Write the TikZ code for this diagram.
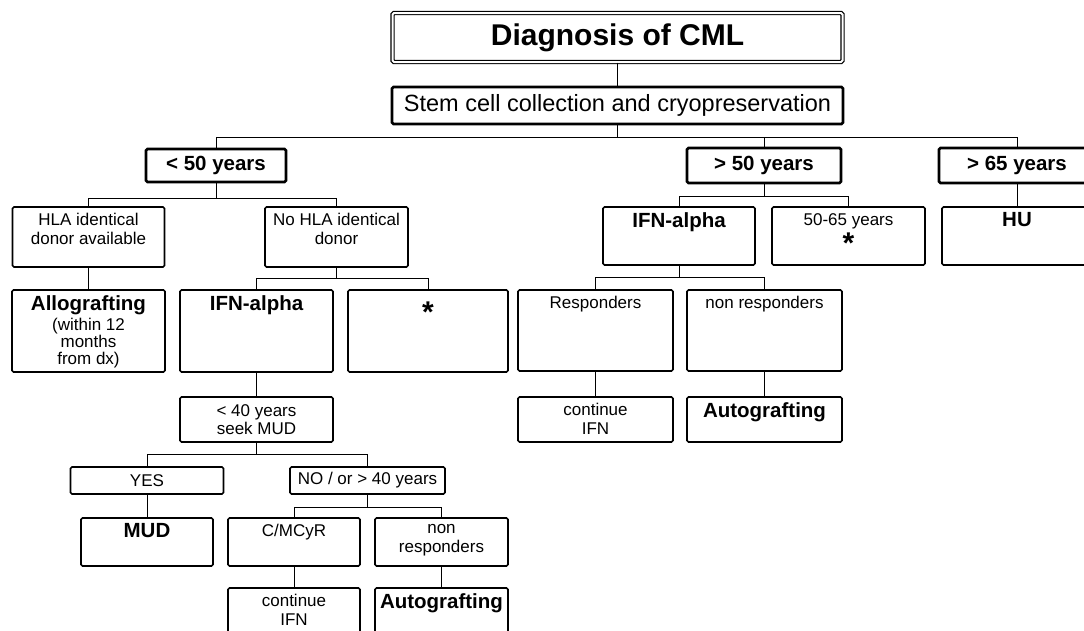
\documentclass[tikz,border=0pt]{standalone}
\usepackage{fontspec}
\setmainfont{Liberation Sans}
\newcommand{\regtxt}{\fontsize{17}{18.5}\selectfont\mdseries}
\newcommand{\starfont}{\fontsize{30}{30}\selectfont\bfseries}

\begin{document}
\begin{tikzpicture}[
    x=1pt, y=-1pt,
    box/.style={rectangle, draw, line width=1.7pt, rounded corners=1.5pt, inner sep=0pt, align=center},
    head/.style={box, line width=2.8pt},
    link/.style={draw, line width=0.8pt},
    boldtxt/.style={font=\fontsize{20.5}{23}\selectfont\bfseries},
    smalltxt/.style={font=\fontsize{17}{18.5}\selectfont},
    toptext/.style={label={[anchor=north, yshift=-7pt, inner sep=0pt, align=center, smalltxt]north:{#1}}},
    topbold/.style={label={[anchor=north, yshift=-6pt, inner sep=0pt, align=center, boldtxt]north:{#1}}}
]
\useasboundingbox (0,0) rectangle (1084,630);
\clip (0,0) rectangle (1084,630);

\node[box, double, double distance=2pt, line width=1.2pt, minimum width=450pt, minimum height=49pt, font=\fontsize{30}{32}\selectfont\bfseries] (diag) at (617.5,37.5) {Diagnosis of CML};
\node[head, minimum width=451pt, minimum height=37pt, font=\fontsize{23.5}{26}\selectfont] (stem) at (617.5,105.5) {Stem cell collection and cryopreservation};

\node[head, minimum width=140pt, minimum height=33pt, boldtxt] (young) at (216,165.5) {< 50 years};
\node[head, minimum width=154pt, minimum height=35pt, boldtxt] (mid) at (764,165.5) {> 50 years};
\node[head, minimum width=156pt, minimum height=35pt, boldtxt] (old) at (1017,165.5) {> 65 years};

\node[box, minimum width=152pt, minimum height=60pt, toptext={HLA identical\\donor available}] (hla) at (88.5,237) {};
\node[box, minimum width=143pt, minimum height=60pt, toptext={No HLA identical\\donor}] (nohla) at (336.5,237) {};
\node[box, minimum width=153pt, minimum height=82pt, topbold={Allografting\\[-3pt]\regtxt (within 12\\[-6pt]\regtxt months\\[-6pt]\regtxt from dx)}] (allo) at (88.5,331) {};
\node[box, minimum width=153pt, minimum height=82pt, topbold={IFN-alpha}] (ifnyoung) at (256.5,331) {};
\node[box, minimum width=160pt, minimum height=82pt, label={[anchor=north, yshift=-13pt, inner sep=0pt]north:{\starfont *}}] (staryoung) at (428,331) {};

\node[box, minimum width=153pt, minimum height=45pt, smalltxt] (seek) at (256.5,419.5) {< 40 years\\seek MUD};
\node[box, minimum width=153pt, minimum height=27pt, smalltxt] (yes) at (147,480.5) {YES};
\node[box, minimum width=155pt, minimum height=27pt, smalltxt] (no) at (367.5,480.5) {NO / or > 40 years};
\node[box, minimum width=132pt, minimum height=48pt, topbold={MUD}] (mud) at (147,542) {};
\node[box, minimum width=132pt, minimum height=48pt, toptext={C/MCyR}] (cmcyr) at (294,542) {};
\node[box, minimum width=133pt, minimum height=48pt, toptext={non\\responders}] (nonyoung) at (441.5,542) {};
\node[box, minimum width=132pt, minimum height=52pt, toptext={continue\\IFN}] (contyoung) at (294,614) {};
\node[box, minimum width=133pt, minimum height=52pt, topbold={Autografting}] (autoyoung) at (441.5,614) {};

\node[box, minimum width=152pt, minimum height=58pt, topbold={IFN-alpha}] (ifnmid) at (679,236) {};
\node[box, minimum width=153pt, minimum height=58pt, toptext={50-65 years\\[3pt]\starfont *}] (range) at (848.5,236) {};
\node[box, minimum width=150pt, minimum height=58pt, topbold={HU}] (hu) at (1017,236) {};
\node[box, minimum width=155pt, minimum height=81pt, toptext={Responders}] (resp) at (595.5,330.5) {};
\node[box, minimum width=155pt, minimum height=81pt, toptext={non responders}] (nonmid) at (764.5,330.5) {};
\node[box, minimum width=155pt, minimum height=45pt, toptext={continue\\IFN}] (contmid) at (595.5,419.5) {};
\node[box, minimum width=155pt, minimum height=45pt, topbold={Autografting}] (automid) at (764.5,419.5) {};

\draw[link] (diag) -- (stem);
\draw[link] (stem.south) -- +(0,12) -| (young.north);
\draw[link] (stem.south) -- +(0,12) -| (mid.north);
\draw[link] (stem.south) -- +(0,12) -| (old.north);
\draw[link] (young.south) -- +(0,15) -| (hla.north);
\draw[link] (young.south) -- +(0,15) -| (nohla.north);
\draw[link] (hla) -- (allo);
\draw[link] (nohla.south) -- +(0,11) -| (ifnyoung.north);
\draw[link] (nohla.south) -- +(0,11) -| (staryoung.north);
\draw[link] (ifnyoung) -- (seek);
\draw[link] (seek.south) -- +(0,12) -| (yes.north);
\draw[link] (seek.south) -- +(0,12) -| (no.north);
\draw[link] (yes) -- (mud);
\draw[link] (no.south) -- +(0,13) -| (cmcyr.north);
\draw[link] (no.south) -- +(0,13) -| (nonyoung.north);
\draw[link] (cmcyr) -- (contyoung);
\draw[link] (nonyoung) -- (autoyoung);
\draw[link] (mid.south) -- +(0,12) -| (ifnmid.north);
\draw[link] (mid.south) -- +(0,12) -| (range.north);
\draw[link] (old) -- (hu);
\draw[link] (ifnmid.south) -- +(0,12) -| (resp.north);
\draw[link] (ifnmid.south) -- +(0,12) -| (nonmid.north);
\draw[link] (resp) -- (contmid);
\draw[link] (nonmid) -- (automid);
\end{tikzpicture}
\end{document}
